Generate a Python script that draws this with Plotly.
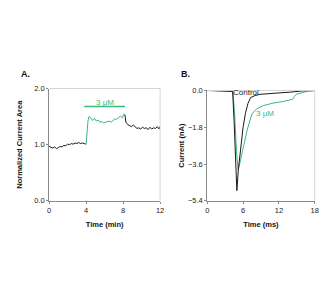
import plotly.graph_objects as go
from plotly.subplots import make_subplots

# Panel A data (time in min, normalized current area)
a_pre_t = [0, 0.2, 0.4, 0.6, 0.8, 1.0, 1.2, 1.4, 1.6, 1.8, 2.0, 2.2, 2.4, 2.6, 2.8, 3.0, 3.2, 3.4, 3.6, 3.8, 4.0]
a_pre_v = [0.97, 0.95, 0.94, 0.96, 0.93, 0.95, 0.97, 0.96, 0.99, 0.98, 1.01, 1.00, 1.02, 1.01, 1.03, 1.02, 1.04, 1.02, 1.03, 1.02, 1.01]
a_drug_t = [4.0, 4.1, 4.2, 4.3, 4.5, 4.7, 4.9, 5.1, 5.3, 5.5, 5.7, 5.9, 6.1, 6.3, 6.5, 6.7, 6.9, 7.1, 7.3, 7.5, 7.7, 7.9, 8.1, 8.2]
a_drug_v = [1.01, 1.25, 1.42, 1.50, 1.48, 1.43, 1.47, 1.42, 1.44, 1.40, 1.41, 1.39, 1.40, 1.41, 1.42, 1.40, 1.44, 1.46, 1.45, 1.49, 1.51, 1.48, 1.55, 1.53]
a_post_t = [8.2, 8.3, 8.5, 8.7, 8.9, 9.1, 9.3, 9.5, 9.7, 9.9, 10.1, 10.3, 10.5, 10.7, 10.9, 11.1, 11.3, 11.5, 11.7, 11.9, 12.0]
a_post_v = [1.53, 1.40, 1.36, 1.34, 1.32, 1.35, 1.31, 1.29, 1.30, 1.28, 1.31, 1.29, 1.30, 1.27, 1.31, 1.28, 1.30, 1.29, 1.32, 1.28, 1.33]
a_bar_t = [3.8, 8.2]
a_bar_v = [1.68, 1.68]

# Panel B data (time in ms, current in nA)
b_ctrl_t = [0, 2, 4, 4.25, 4.5, 4.75, 4.96, 5.2, 5.6, 6.0, 6.4, 6.8, 7.25, 8.0, 8.8, 10, 12, 14, 15, 16, 18]
b_ctrl_v = [0.0, -0.01, -0.02, -0.05, -1.5, -3.8, -4.9, -3.9, -2.7, -1.8, -1.12, -0.65, -0.35, -0.25, -0.19, -0.15, -0.12, -0.08, -0.04, -0.02, -0.01]
b_drug_t = [0, 2, 4, 4.3, 4.6, 4.9, 5.18, 5.5, 5.8, 6.17, 6.7, 7.5, 8.3, 9.4, 11, 12.7, 14.3, 14.6, 14.9, 16, 16.8, 18]
b_drug_v = [0.0, 0.0, -0.01, -0.05, -1.2, -3.0, -3.9, -3.5, -3.1, -2.7, -1.92, -1.13, -0.9, -0.74, -0.62, -0.54, -0.43, -0.3, -0.19, -0.1, -0.03, 0.0]

BLACK = "#1a1a1a"
GREEN = "#3cb878"
FONT = "Liberation Sans, Arial, sans-serif"

fig = make_subplots(rows=1, cols=2)

fig.add_trace(go.Scatter(x=a_pre_t, y=a_pre_v, mode="lines", line=dict(color=BLACK, width=1)), 1, 1)
fig.add_trace(go.Scatter(x=a_post_t, y=a_post_v, mode="lines", line=dict(color=BLACK, width=1)), 1, 1)
fig.add_trace(go.Scatter(x=a_drug_t, y=a_drug_v, mode="lines", line=dict(color=GREEN, width=1)), 1, 1)
fig.add_trace(go.Scatter(x=a_bar_t, y=a_bar_v, mode="lines", line=dict(color=GREEN, width=1.5)), 1, 1)

fig.add_trace(go.Scatter(x=b_drug_t, y=b_drug_v, mode="lines", line=dict(color=GREEN, width=1)), 1, 2)
fig.add_trace(go.Scatter(x=b_ctrl_t, y=b_ctrl_v, mode="lines", line=dict(color=BLACK, width=1)), 1, 2)

W, H = 332, 284
def xd(a, b):
    return [a / W, b / W]
def yd(top, bot):
    return [1 - bot / H, 1 - top / H]

axis_common = dict(showline=True, linecolor="#8a8a8a", linewidth=1, ticks="outside",
                   ticklen=2, tickcolor="#8a8a8a", showgrid=False, zeroline=False,
                   tickfont=dict(family=FONT, size=7.5, color="#222"))
tfont = dict(family=FONT, size=7.5, color="#111")

fig.update_layout(
    width=W, height=H, margin=dict(l=0, r=0, t=0, b=0),
    paper_bgcolor="white", plot_bgcolor="white", showlegend=False,
    font=dict(family=FONT),
    xaxis=dict(domain=xd(48, 161), range=[0, 12], tickvals=[0, 4, 8, 12],
               title=dict(text="<b>Time (min)</b>", font=tfont, standoff=7), **axis_common),
    yaxis=dict(domain=yd(87.3, 203.3), range=[0, 2], tickvals=[0, 1, 2], tickformat=".1f",
               title=dict(text="<b>Normalized Current Area</b>", font=tfont, standoff=10), **axis_common),
    xaxis2=dict(domain=xd(209, 318.5), range=[0, 18], tickvals=[0, 6, 12, 18],
                title=dict(text="<b>Time (ms)</b>", font=tfont, standoff=7), **axis_common),
    yaxis2=dict(domain=yd(89.3, 203.3), range=[-5.4, 0], tickvals=[0, -1.8, -3.6, -5.4], tickformat=".1f",
                title=dict(text="<b>Current (nA)</b>", font=tfont, standoff=2), **axis_common),
)

# light frame on top/right
for xr, yr in [("x domain", "y domain"), ("x2 domain", "y2 domain")]:
    fig.add_shape(type="line", xref=xr, yref=yr, x0=0, x1=1, y0=1, y1=1, line=dict(color="#d4d4d4", width=1))
    fig.add_shape(type="line", xref=xr, yref=yr, x0=1, x1=1, y0=0, y1=1, line=dict(color="#d4d4d4", width=1))

fig.add_annotation(x=6.0, y=1.75, xref="x", yref="y", text="3 µM", showarrow=False,
                   font=dict(family=FONT, size=8, color=GREEN))
fig.add_annotation(x=6.5, y=-0.09, xref="x2", yref="y2", text="Control", showarrow=False,
                   font=dict(family=FONT, size=8, color=BLACK))
fig.add_annotation(x=9.6, y=-1.13, xref="x2", yref="y2", text="3 µM", showarrow=False,
                   font=dict(family=FONT, size=8, color=GREEN))

fig.add_annotation(x=17 / W, y=1 - 72 / H, xref="paper", yref="paper", text="<b>A.</b>", showarrow=False,
                   xanchor="left", yanchor="middle", font=dict(family=FONT, size=9, color="#111"))
fig.add_annotation(x=180 / W, y=1 - 72 / H, xref="paper", yref="paper", text="<b>B.</b>", showarrow=False,
                   xanchor="left", yanchor="middle", font=dict(family=FONT, size=9, color="#111"))

fig.write_html("out.html")
